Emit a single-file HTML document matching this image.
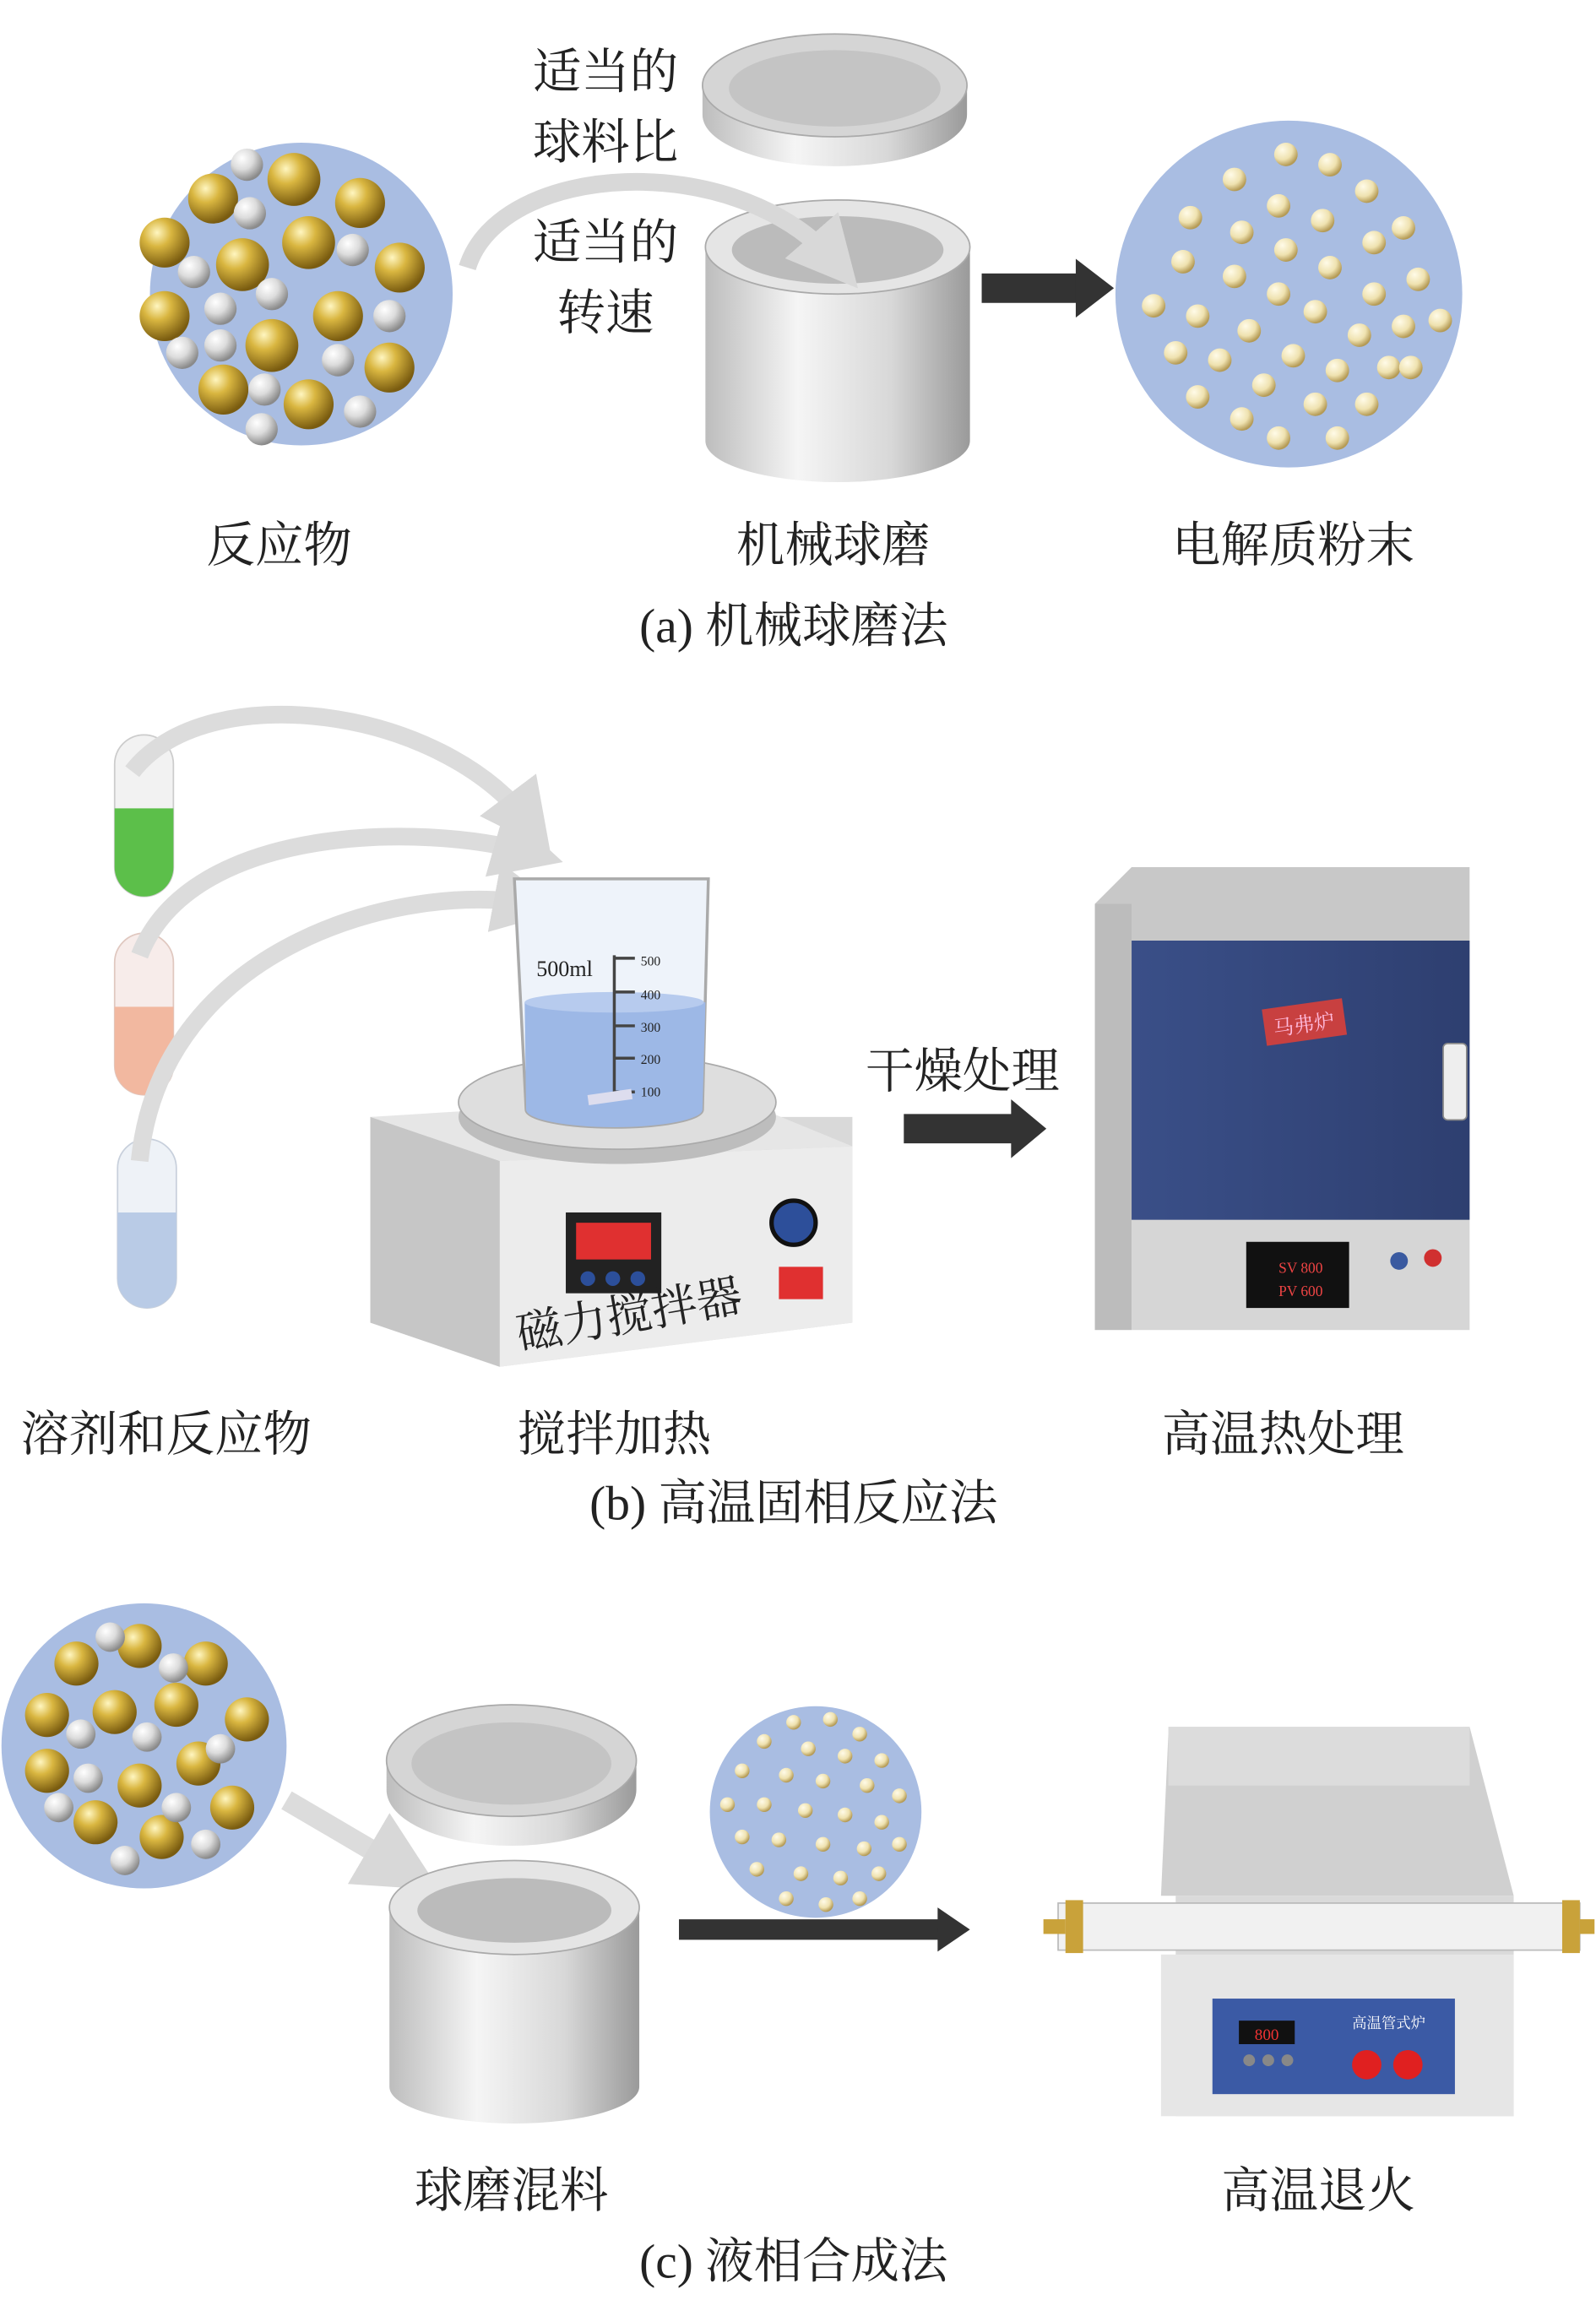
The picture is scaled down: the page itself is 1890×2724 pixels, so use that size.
<!DOCTYPE html>
<html><head><meta charset="utf-8"><style>
html,body{margin:0;padding:0;background:#fff;}
svg{display:block}
text{font-family:"Liberation Serif","Noto Serif CJK SC","Noto Sans CJK SC",serif;fill:#222;}
</style></head><body>
<svg width="1890" height="2724" viewBox="0 0 1086 1565" xmlns="http://www.w3.org/2000/svg">
<defs>
<radialGradient id="gold" cx="35%" cy="30%" r="70%"><stop offset="0" stop-color="#fff6c0"/><stop offset="0.4" stop-color="#d9b640"/><stop offset="1" stop-color="#7a5c10"/></radialGradient>
<radialGradient id="silver" cx="35%" cy="30%" r="70%"><stop offset="0" stop-color="#ffffff"/><stop offset="0.5" stop-color="#dcdcdc"/><stop offset="1" stop-color="#8a8a8a"/></radialGradient>
<radialGradient id="cream" cx="35%" cy="30%" r="70%"><stop offset="0" stop-color="#fffbe8"/><stop offset="0.6" stop-color="#efe2b0"/><stop offset="1" stop-color="#b49a55"/></radialGradient>
<linearGradient id="cyl" x1="0" x2="1"><stop offset="0" stop-color="#bdbdbd"/><stop offset="0.35" stop-color="#f5f5f5"/><stop offset="0.7" stop-color="#d8d8d8"/><stop offset="1" stop-color="#9a9a9a"/></linearGradient>
<linearGradient id="furn" x1="0" x2="1"><stop offset="0" stop-color="#3a4f88"/><stop offset="1" stop-color="#2e3f70"/></linearGradient>
<marker id="ah" viewBox="0 0 10 10" refX="5" refY="5" markerWidth="4" markerHeight="4" orient="auto"><path d="M0,0L10,5L0,10z" fill="#d8d8d8"/></marker>
</defs>

<!-- (a) -->
<circle cx="205" cy="200" r="103" fill="#a9bde2"/>
<g>
<circle cx="145" cy="135" r="17" fill="url(#gold)"/><circle cx="200" cy="122" r="18" fill="url(#gold)"/><circle cx="245" cy="138" r="17" fill="url(#gold)"/>
<circle cx="112" cy="165" r="17" fill="url(#gold)"/><circle cx="165" cy="180" r="18" fill="url(#gold)"/><circle cx="210" cy="165" r="18" fill="url(#gold)"/><circle cx="272" cy="182" r="17" fill="url(#gold)"/>
<circle cx="112" cy="215" r="17" fill="url(#gold)"/><circle cx="185" cy="235" r="18" fill="url(#gold)"/><circle cx="230" cy="215" r="17" fill="url(#gold)"/>
<circle cx="152" cy="265" r="17" fill="url(#gold)"/><circle cx="210" cy="275" r="17" fill="url(#gold)"/><circle cx="265" cy="250" r="17" fill="url(#gold)"/>
<circle cx="168" cy="112" r="11" fill="url(#silver)"/><circle cx="170" cy="145" r="11" fill="url(#silver)"/><circle cx="132" cy="185" r="11" fill="url(#silver)"/><circle cx="240" cy="170" r="11" fill="url(#silver)"/><circle cx="150" cy="210" r="11" fill="url(#silver)"/><circle cx="185" cy="200" r="11" fill="url(#silver)"/><circle cx="265" cy="215" r="11" fill="url(#silver)"/><circle cx="124" cy="240" r="11" fill="url(#silver)"/><circle cx="150" cy="235" r="11" fill="url(#silver)"/><circle cx="230" cy="245" r="11" fill="url(#silver)"/><circle cx="180" cy="265" r="11" fill="url(#silver)"/><circle cx="178" cy="292" r="11" fill="url(#silver)"/><circle cx="245" cy="280" r="11" fill="url(#silver)"/>
</g>
<text x="412" y="60" font-size="33" text-anchor="middle">适当的</text>
<text x="412" y="108" font-size="33" text-anchor="middle">球料比</text>
<text x="412" y="176" font-size="33" text-anchor="middle">适当的</text>
<text x="412" y="224" font-size="33" text-anchor="middle">转速</text>
<!-- lid -->
<path d="M478,58 L478,78 A90,35 0 0 0 658,78 L658,58z" fill="url(#cyl)"/>
<ellipse cx="568" cy="58" rx="90" ry="35" fill="#d5d5d5" stroke="#aaa"/>
<ellipse cx="568" cy="60" rx="72" ry="26" fill="#c4c4c4"/>
<!-- cylinder -->
<path d="M480,168 L480,300 A90,28 0 0 0 660,300 L660,168z" fill="url(#cyl)"/>
<ellipse cx="570" cy="168" rx="90" ry="32" fill="#e5e5e5" stroke="#aaa"/>
<ellipse cx="570" cy="170" rx="72" ry="23" fill="#bbb"/>
<path d="M318,182 C340,110 500,100 568,178" fill="none" stroke="#d8d8d8" stroke-width="12" marker-end="url(#ah)"/>
<path d="M668,196 L735,196" stroke="#333" stroke-width="20"/><path d="M732,176 L758,196 L732,216z" fill="#333"/>
<circle cx="877" cy="200" r="118" fill="#a9bde2"/>
<g fill="url(#cream)">
<circle cx="875" cy="105" r="8"/><circle cx="905" cy="112" r="8"/><circle cx="840" cy="122" r="8"/><circle cx="930" cy="130" r="8"/><circle cx="870" cy="140" r="8"/><circle cx="900" cy="150" r="8"/><circle cx="810" cy="148" r="8"/><circle cx="845" cy="158" r="8"/><circle cx="955" cy="155" r="8"/><circle cx="935" cy="165" r="8"/><circle cx="875" cy="170" r="8"/><circle cx="805" cy="178" r="8"/><circle cx="840" cy="188" r="8"/><circle cx="905" cy="182" r="8"/><circle cx="965" cy="190" r="8"/><circle cx="870" cy="200" r="8"/><circle cx="935" cy="200" r="8"/><circle cx="785" cy="208" r="8"/><circle cx="815" cy="215" r="8"/><circle cx="895" cy="212" r="8"/><circle cx="850" cy="225" r="8"/><circle cx="955" cy="222" r="8"/><circle cx="925" cy="228" r="8"/><circle cx="980" cy="218" r="8"/><circle cx="800" cy="240" r="8"/><circle cx="830" cy="245" r="8"/><circle cx="880" cy="242" r="8"/><circle cx="910" cy="252" r="8"/><circle cx="945" cy="250" r="8"/><circle cx="860" cy="262" r="8"/><circle cx="815" cy="270" r="8"/><circle cx="895" cy="275" r="8"/><circle cx="930" cy="275" r="8"/><circle cx="845" cy="285" r="8"/><circle cx="870" cy="298" r="8"/><circle cx="910" cy="298" r="8"/><circle cx="960" cy="250" r="8"/>
</g>
<text x="190" y="382" font-size="33" text-anchor="middle">反应物</text>
<text x="567" y="382" font-size="33" text-anchor="middle">机械球磨</text>
<text x="880" y="382" font-size="33" text-anchor="middle">电解质粉末</text>
<text x="540" y="437" font-size="33" text-anchor="middle">(a) 机械球磨法</text>

<!-- (b) -->
<rect x="78" y="500" width="40" height="110" rx="20" fill="#f2f2f2" stroke="#ccc"/>
<path d="M78,550 L118,550 L118,590 A20,20 0 0 1 78,590z" fill="#5cbf4a"/>
<rect x="78" y="635" width="40" height="110" rx="20" fill="#f7ecea" stroke="#e0c8c0"/>
<path d="M78,685 L118,685 L118,725 A20,20 0 0 1 78,725z" fill="#f2b8a0"/>
<rect x="80" y="775" width="40" height="115" rx="20" fill="#eef2f7" stroke="#c8d0dc"/>
<path d="M80,825 L120,825 L120,870 A20,20 0 0 1 80,870z" fill="#b9cbe6"/>
<path d="M90,525 C140,460 300,480 360,560" fill="none" stroke="#dcdcdc" stroke-width="12" marker-end="url(#ah)"/>
<path d="M95,650 C130,560 290,560 360,580" fill="none" stroke="#dcdcdc" stroke-width="12" marker-end="url(#ah)"/>
<path d="M95,790 C110,640 280,600 360,615" fill="none" stroke="#dcdcdc" stroke-width="12" marker-end="url(#ah)"/>
<!-- stirrer -->
<path d="M252,760 L580,760 L580,900 L340,930 L252,900z" fill="#d9d9d9"/>
<path d="M340,790 L580,780 L580,900 L340,930z" fill="#ececec"/>
<path d="M252,760 L340,790 L340,930 L252,900z" fill="#c6c6c6"/>
<path d="M252,760 L495,745 L580,780 L340,790z" fill="#e6e6e6"/>
<ellipse cx="420" cy="760" rx="108" ry="32" fill="#bdbdbd"/>
<ellipse cx="420" cy="750" rx="108" ry="32" fill="#dedede" stroke="#aaa"/>
<rect x="385" y="825" width="65" height="55" fill="#222"/>
<rect x="392" y="832" width="51" height="25" fill="#e03030"/>
<circle cx="400" cy="870" r="5" fill="#2c4f9a"/><circle cx="417" cy="870" r="5" fill="#2c4f9a"/><circle cx="434" cy="870" r="5" fill="#2c4f9a"/>
<circle cx="540" cy="832" r="15" fill="#2d4f9a" stroke="#111" stroke-width="3"/>
<rect x="530" y="862" width="30" height="22" fill="#e03030"/>
<text x="430" y="905" font-size="31" text-anchor="middle" transform="rotate(-10 430 905)">磁力搅拌器</text>
<!-- beaker -->
<path d="M350,598 L482,598 L478,755 A60,12 0 0 1 358,755z" fill="#eef3fa" stroke="#aaa" stroke-width="2"/>
<path d="M357,682 L480,682 L478,755 A60,12 0 0 1 358,755z" fill="#9db8e6"/>
<ellipse cx="418" cy="682" rx="61" ry="7" fill="#b7cbee"/>
<text x="365" y="664" font-size="15" font-family="Liberation Sans" fill="#333">500ml</text>
<path d="M418,650 L418,745 M418,652 L432,652 M418,675 L432,675 M418,698 L432,698 M418,720 L432,720 M418,743 L432,743" stroke="#444" stroke-width="2"/>
<text x="436" y="657" font-size="9" fill="#444">500</text><text x="436" y="680" font-size="9" fill="#444">400</text><text x="436" y="702" font-size="9" fill="#444">300</text><text x="436" y="724" font-size="9" fill="#444">200</text><text x="436" y="746" font-size="9" fill="#444">100</text>
<rect x="400" y="743" width="30" height="7" fill="#dde" transform="rotate(-8 415 746)"/>
<text x="655" y="740" font-size="33" text-anchor="middle">干燥处理</text>
<path d="M615,768 L690,768" stroke="#333" stroke-width="20"/><path d="M688,748 L712,768 L688,788z" fill="#333"/>
<!-- muffle furnace -->
<path d="M745,615 L770,590 L1000,590 L1000,640 L770,640z" fill="#c8c8c8"/>
<rect x="745" y="615" width="25" height="290" fill="#bcbcbc"/>
<rect x="770" y="640" width="230" height="265" fill="#d6d6d6"/>
<rect x="770" y="640" width="230" height="190" fill="url(#furn)"/>
<rect x="982" y="710" width="16" height="52" rx="3" fill="#eee" stroke="#888"/>
<rect x="860" y="683" width="55" height="25" fill="#c84040" transform="rotate(-8 887 695)"/>
<text x="887" y="702" font-size="14" text-anchor="middle" transform="rotate(-8 887 695)" style="fill:#fbd">马弗炉</text>
<rect x="848" y="845" width="70" height="45" fill="#111"/>
<text x="870" y="866" font-size="10" font-family="Liberation Sans" style="fill:#e44">SV 800</text>
<text x="870" y="882" font-size="10" font-family="Liberation Sans" style="fill:#e44">PV 600</text>
<circle cx="952" cy="858" r="6" fill="#3a5aa0"/><circle cx="975" cy="856" r="6" fill="#d03030"/>
<text x="113" y="987" font-size="33" text-anchor="middle">溶剂和反应物</text>
<text x="418" y="987" font-size="33" text-anchor="middle">搅拌加热</text>
<text x="873" y="987" font-size="33" text-anchor="middle">高温热处理</text>
<text x="540" y="1034" font-size="33" text-anchor="middle">(b) 高温固相反应法</text>

<!-- (c) -->
<circle cx="98" cy="1188" r="97" fill="#a9bde2"/>
<g>
<circle cx="52" cy="1132" r="15" fill="url(#gold)"/><circle cx="95" cy="1120" r="15" fill="url(#gold)"/><circle cx="140" cy="1132" r="15" fill="url(#gold)"/><circle cx="32" cy="1167" r="15" fill="url(#gold)"/><circle cx="78" cy="1165" r="15" fill="url(#gold)"/><circle cx="120" cy="1160" r="15" fill="url(#gold)"/><circle cx="168" cy="1170" r="15" fill="url(#gold)"/><circle cx="32" cy="1205" r="15" fill="url(#gold)"/><circle cx="95" cy="1215" r="15" fill="url(#gold)"/><circle cx="135" cy="1200" r="15" fill="url(#gold)"/><circle cx="65" cy="1240" r="15" fill="url(#gold)"/><circle cx="110" cy="1250" r="15" fill="url(#gold)"/><circle cx="158" cy="1230" r="15" fill="url(#gold)"/>
<circle cx="75" cy="1114" r="10" fill="url(#silver)"/><circle cx="118" cy="1135" r="10" fill="url(#silver)"/><circle cx="55" cy="1180" r="10" fill="url(#silver)"/><circle cx="100" cy="1182" r="10" fill="url(#silver)"/><circle cx="150" cy="1190" r="10" fill="url(#silver)"/><circle cx="60" cy="1210" r="10" fill="url(#silver)"/><circle cx="120" cy="1230" r="10" fill="url(#silver)"/><circle cx="40" cy="1230" r="10" fill="url(#silver)"/><circle cx="85" cy="1266" r="10" fill="url(#silver)"/><circle cx="140" cy="1255" r="10" fill="url(#silver)"/>
</g>
<path d="M195,1225 L275,1272" stroke="#dcdcdc" stroke-width="14" marker-end="url(#ah)"/>
<path d="M263,1198 L263,1218 A85,38 0 0 0 433,1218 L433,1198z" fill="url(#cyl)"/>
<ellipse cx="348" cy="1198" rx="85" ry="38" fill="#d5d5d5" stroke="#aaa"/>
<ellipse cx="348" cy="1200" rx="68" ry="28" fill="#c4c4c4"/>
<path d="M265,1298 L265,1420 A85,25 0 0 0 435,1420 L435,1298z" fill="url(#cyl)"/>
<ellipse cx="350" cy="1298" rx="85" ry="32" fill="#e5e5e5" stroke="#aaa"/>
<ellipse cx="350" cy="1300" rx="66" ry="22" fill="#bbb"/>
<circle cx="555" cy="1233" r="72" fill="#a9bde2"/>
<g fill="url(#cream)">
<circle cx="540" cy="1172" r="5"/><circle cx="565" cy="1170" r="5"/><circle cx="585" cy="1180" r="5"/><circle cx="520" cy="1185" r="5"/><circle cx="550" cy="1190" r="5"/><circle cx="575" cy="1195" r="5"/><circle cx="600" cy="1198" r="5"/><circle cx="505" cy="1205" r="5"/><circle cx="535" cy="1208" r="5"/><circle cx="560" cy="1212" r="5"/><circle cx="590" cy="1215" r="5"/><circle cx="612" cy="1222" r="5"/><circle cx="495" cy="1228" r="5"/><circle cx="520" cy="1228" r="5"/><circle cx="548" cy="1232" r="5"/><circle cx="575" cy="1235" r="5"/><circle cx="600" cy="1240" r="5"/><circle cx="505" cy="1250" r="5"/><circle cx="530" cy="1252" r="5"/><circle cx="560" cy="1255" r="5"/><circle cx="588" cy="1258" r="5"/><circle cx="612" cy="1255" r="5"/><circle cx="515" cy="1272" r="5"/><circle cx="545" cy="1275" r="5"/><circle cx="572" cy="1278" r="5"/><circle cx="598" cy="1275" r="5"/><circle cx="535" cy="1292" r="5"/><circle cx="562" cy="1296" r="5"/><circle cx="585" cy="1292" r="5"/>
</g>
<path d="M462,1313 L640,1313" stroke="#333" stroke-width="14"/><path d="M638,1298 L660,1313 L638,1328z" fill="#333"/>
<!-- tube furnace -->
<path d="M795,1180 L1000,1175 L1030,1290 L790,1290z" fill="#d0d0d0"/>
<rect x="795" y="1175" width="205" height="40" fill="#dcdcdc"/>
<rect x="800" y="1290" width="230" height="150" fill="#dadada"/>
<rect x="790" y="1330" width="240" height="110" fill="#e6e6e6"/>
<rect x="720" y="1295" width="355" height="32" fill="#f1f1f1" stroke="#bbb"/>
<rect x="725" y="1293" width="12" height="36" fill="#c9a23a"/><rect x="1063" y="1293" width="12" height="36" fill="#c9a23a"/>
<rect x="710" y="1306" width="15" height="10" fill="#c9a23a"/><rect x="1075" y="1306" width="10" height="10" fill="#c9a23a"/>
<rect x="825" y="1360" width="165" height="65" fill="#3b5aa5"/>
<rect x="843" y="1375" width="38" height="16" fill="#111"/>
<text x="862" y="1388" font-size="11" text-anchor="middle" style="fill:#e33">800</text>
<circle cx="850" cy="1402" r="4" fill="#888"/><circle cx="863" cy="1402" r="4" fill="#888"/><circle cx="876" cy="1402" r="4" fill="#888"/>
<text x="945" y="1380" font-size="10" text-anchor="middle" style="fill:#fff">高温管式炉</text>
<circle cx="930" cy="1405" r="10" fill="#e02020"/><circle cx="958" cy="1405" r="10" fill="#e02020"/>
<text x="348" y="1502" font-size="33" text-anchor="middle">球磨混料</text>
<text x="897" y="1502" font-size="33" text-anchor="middle">高温退火</text>
<text x="540" y="1550" font-size="33" text-anchor="middle">(c) 液相合成法</text>
</svg>
</body></html>
